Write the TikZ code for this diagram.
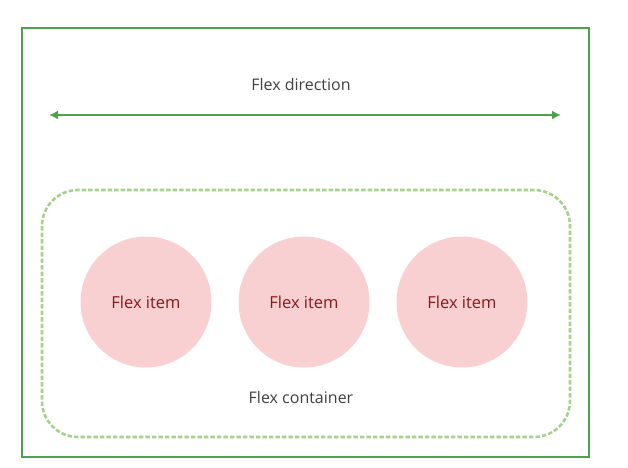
\documentclass[tikz,border=0pt]{standalone}
\usepackage{fontspec}
\setmainfont{Open Sans}
\usepackage{tikz}
\usetikzlibrary{arrows.meta, positioning}
\definecolor{frameG}{RGB}{76,163,76}
\definecolor{boxG}{RGB}{169,209,142}
\definecolor{itemP}{RGB}{248,208,210}
\definecolor{itemT}{RGB}{140,22,28}
\definecolor{labelT}{RGB}{64,64,64}
\tikzset{
  frame/.style={draw=frameG, line width=2.4pt},
  flexbox/.style={draw=boxG, line width=2.6pt, dash pattern=on 4.5pt off 2pt,
                  rounded corners=36pt},
  item/.style={circle, fill=itemP, draw=none, inner sep=0pt,
               minimum size=131pt, font=\fontsize{16.5}{19}\selectfont\color{itemT}},
  lbl/.style={font=\fontsize{16}{19}\selectfont\color{labelT}, inner sep=0pt},
  dirArrow/.style={draw=frameG, line width=2.6pt,
                   {Latex[length=9pt,width=9pt]}-{Latex[length=9pt,width=9pt]}},
}
\begin{document}
\begin{tikzpicture}[x=1pt, y=-1pt]
    \useasboundingbox (0,0) rectangle (628,467);
    \draw[frame] (22,28) rectangle (589,457);
    \node[lbl] (dir) at (301,84) {Flex direction};
    \coordinate (dirL) at (49,115);
    \coordinate (dirR) at (561,115);
    \draw[dirArrow] (dirL) -- (dirR);
    \draw[flexbox] (42,190) rectangle (570,437);
    \foreach \i/\x in {1/146,2/304,3/462}{
      \node[item] (it\i) at (\x,302) {Flex item};
    }
    \node[lbl] (cont) at (301,397) {Flex container};
  \end{tikzpicture}
\end{document}
